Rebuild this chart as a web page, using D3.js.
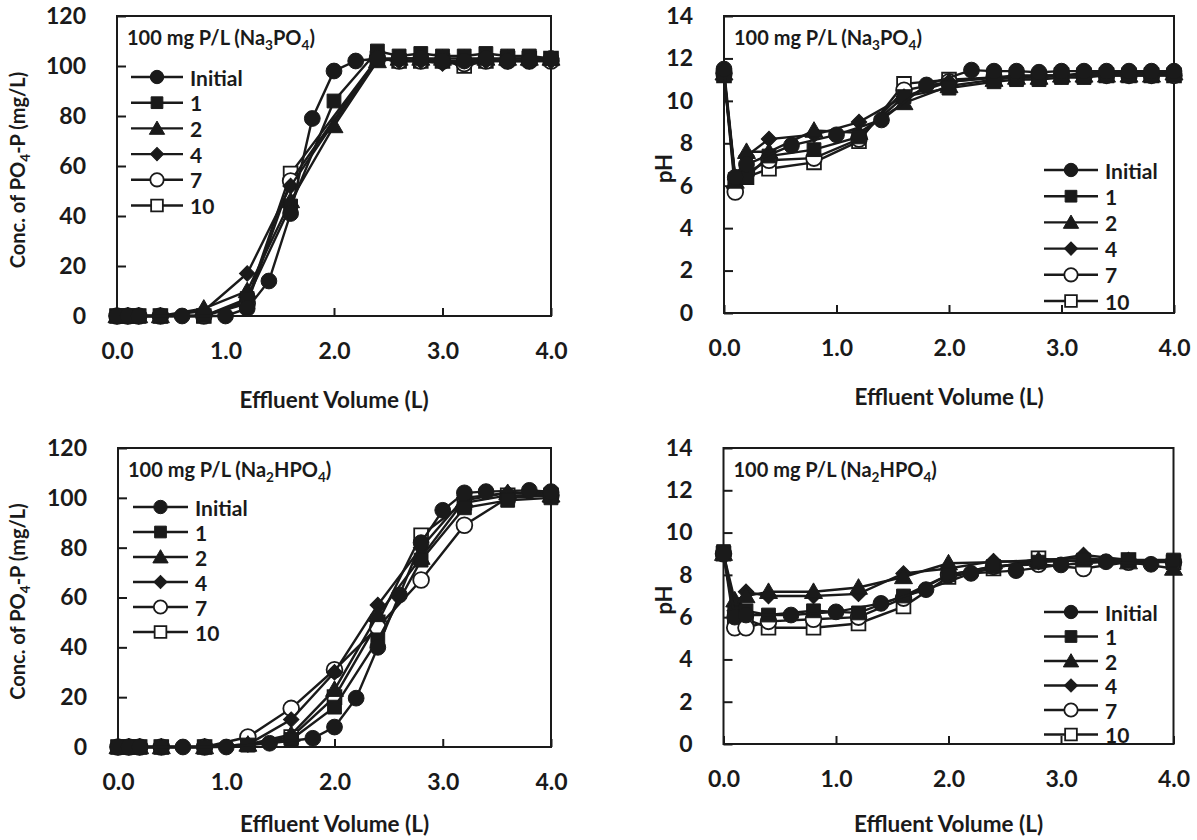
<!DOCTYPE html>
<html><head><meta charset="utf-8">
<script src="https://cdn.jsdelivr.net/npm/d3@7"></script>
<style>
body{margin:0;background:#fff;}
svg{display:block;font-family:Lato,"Open Sans",sans-serif;font-weight:bold;}
</style></head>
<body>
<svg id="chart" width="1197" height="840"></svg>
<script>
// ---------- DATA ----------
const seriesNames = ["Initial","1","2","4","7","10"];
const xTicks = [0,1,2,3,4];
const concTicks = [0,20,40,60,80,100,120];
const phTicks = [0,2,4,6,8,10,12,14];

// Panel A: PO4-P, Na3PO4
const a_x_initial = [0,0.1,0.2,0.6,1.0,1.2,1.4,1.6,1.8,2.0,2.2,2.4,2.6,2.8,3.0,3.2,3.4,3.6,3.8,4.0];
const a_y_initial = [0,0,0,0,0,3,14,41,79,98,102,103,103,103,102,102,103,102,102,103];
const a_x_grid = [0,0.1,0.2,0.4,0.8,1.2,1.6,2.0,2.4,2.6,2.8,3.0,3.2,3.4,3.6,3.8,4.0];
const a_x_grid2 = [0,0.1,0.2,0.4,0.8,1.2,1.6,2.4,2.6,2.8,3.0,3.2,3.4,3.6,3.8,4.0];
const a_y_1  = [0,0,0,0,0,7,44,86,106,104,105,104,104,105,104,104,103];
const a_y_2  = [0,0,0,0,3,10,46,76,102,103,103,103,103,103,103,103,103];
const a_y_4  = [0,0,0,0,2,17,52,103,102,102,101,102,102,102,102,102];
const a_y_7  = [0,0,0,0,0,5,54,103,102,102,102,101,102,102,102,102];
const a_y_10 = [0,0,0,0,0,6,57,103,102,102,102,100,102,103,103,103];

// Panel B: pH, Na3PO4
const b_x_initial = [0,0.1,0.2,0.6,1.0,1.4,1.8,2.2,2.4,2.6,2.8,3.0,3.2,3.4,3.6,3.8,4.0];
const b_y_initial = [11.5,6.4,7.0,7.9,8.4,9.1,10.75,11.45,11.4,11.4,11.35,11.4,11.4,11.4,11.4,11.4,11.4];
const b_x_grid = [0,0.1,0.2,0.4,0.8,1.2,1.6,2.0,2.4,2.6,2.8,3.0,3.2,3.4,3.6,3.8,4.0];
const b_y_1  = [11.2,6.3,6.4,7.4,7.7,8.3,10.2,10.6,10.9,11.0,11.0,11.1,11.1,11.2,11.2,11.2,11.2];
const b_y_2  = [11.3,6.2,7.6,7.6,8.6,8.5,9.9,10.7,11.0,11.1,11.1,11.2,11.2,11.2,11.2,11.2,11.3];
const b_y_4  = [11.3,6.3,7.4,8.2,8.4,9.0,10.2,10.9,11.1,11.2,11.2,11.2,11.3,11.3,11.3,11.3,11.3];
const b_y_7  = [11.3,5.7,6.6,7.2,7.3,8.2,10.5,10.9,11.1,11.1,11.2,11.2,11.2,11.2,11.2,11.2,11.2];
const b_y_10 = [11.2,6.0,6.4,6.8,7.1,8.1,10.8,11.0,11.1,11.1,11.1,11.2,11.2,11.2,11.2,11.2,11.2];

// Panel C: PO4-P, Na2HPO4
const c_x_initial = [0,0.1,0.2,0.6,1.0,1.4,1.8,2.0,2.2,2.4,2.6,2.8,3.0,3.2,3.4,3.8,4.0];
const c_y_initial = [0,0,0,0,0,1.5,3.5,8,19.6,40,61,82,95,102,102.5,103,102.5];
const c_x_grid = [0,0.1,0.2,0.4,0.8,1.2,1.6,2.0,2.4,2.8,3.2,3.6,4.0];
const c_y_1  = [0,0,0,0,0,0.8,3,16,43,75,96,99,100];
const c_y_2  = [0,0,0,0,0,1,5,23,53,76,99,102,101];
const c_y_4  = [0,0,0,0,0,1,11,30,57,80,100,102,102];
const c_y_7  = [0,0,0,0,0,4,15.5,31,48,67,89,100,101];
const c_y_10 = [0,0,0,0,0,1,4,20,50,85,98,101,101];

// Panel D: pH, Na2HPO4
const d_x_initial = [0,0.1,0.2,0.6,1.0,1.4,1.8,2.2,2.6,3.0,3.4,3.8];
const d_y_initial = [9.0,6.0,6.1,6.1,6.25,6.65,7.3,8.07,8.2,8.47,8.62,8.5];
const d_x_grid = [0,0.1,0.2,0.4,0.8,1.2,1.6,2.0,2.4,2.8,3.2,3.6,4.0];
const d_y_1  = [9.1,6.2,6.3,6.1,6.3,6.2,7.0,8.0,8.4,8.6,8.7,8.7,8.7];
const d_y_2  = [9.0,6.8,7.0,7.2,7.2,7.4,7.9,8.55,8.6,8.7,8.8,8.6,8.3];
const d_y_4  = [9.0,6.3,7.2,7.0,7.0,7.1,8.07,8.3,8.65,8.6,8.94,8.7,8.6];
const d_y_7  = [9.0,5.5,5.5,5.8,5.9,6.0,6.9,8.0,8.4,8.5,8.3,8.6,8.6];
const d_y_10 = [9.0,5.9,5.9,5.5,5.5,5.7,6.5,7.9,8.3,8.78,8.6,8.7,8.6];

// ---------- DRAWING ----------
const svg = d3.select("#chart");
const INK = "#1a1a1a";
const markerTypes = ["circle","square","triangle","diamond","ocircle","osquare"];

function symbolPath(type, k){
  k = k || 1;
  switch(type){
    case "circle": case "ocircle": return d3.symbol(d3.symbolCircle, 195*k*k)();
    case "square": case "osquare": return d3.symbol(d3.symbolSquare, 190*k*k)();
    case "triangle": return d3.symbol(d3.symbolTriangle, 140*k*k)();
    case "diamond": return d3.symbol(d3.symbolSquare, 120*k*k)();
  }
}
function drawMarker(g, type, x, y, k){
  const open = type==="ocircle"||type==="osquare";
  g.append("path").attr("d", symbolPath(type,k))
    .attr("transform", `translate(${x},${y})` + (type==="diamond"?" rotate(45)":"") + (type==="triangle"?" translate(0,1.5)":""))
    .attr("fill", open?"#fff":INK).attr("stroke",INK).attr("stroke-width", open?1.8:1);
}

// text with subscripts: parts [{t, sub}]
function richText(t, parts, size, shift){
  let prevSub = false;
  parts.forEach(p=>{
    const ts = t.append("tspan").text(p.t);
    if(p.sub){ ts.attr("dy", shift).attr("font-size", size*0.68); prevSub = true; }
    else if(prevSub){ ts.attr("dy", -shift); prevSub = false; }
  });
}

function drawPanel(cfg){
  const g = svg.append("g");
  const x = d3.scaleLinear().domain([0,4]).range([cfg.left, cfg.right]);
  const y = d3.scaleLinear().domain(cfg.yDomain).range([cfg.bottom, cfg.top]);

  // frame
  g.append("rect").attr("x",cfg.left).attr("y",cfg.top)
    .attr("width",cfg.right-cfg.left).attr("height",cfg.bottom-cfg.top)
    .attr("fill","none").attr("stroke",INK).attr("stroke-width",2);

  // axes (ticks inside)
  const xa = g.append("g").attr("transform",`translate(0,${cfg.bottom})`)
    .call(d3.axisBottom(x).tickValues(xTicks).tickSizeInner(-8).tickSizeOuter(0).tickPadding(27).tickFormat(d3.format(".1f")));
  const ya = g.append("g").attr("transform",`translate(${cfg.left},0)`)
    .call(d3.axisLeft(y).tickValues(cfg.yTicks).tickSizeInner(-9).tickSizeOuter(0).tickPadding(31).tickFormat(d3.format("d")));
  [xa,ya].forEach(a=>{
    a.select(".domain").remove();
    a.selectAll(".tick line").attr("stroke",INK).attr("stroke-width",2);
    a.selectAll(".tick text").attr("font-size",23).attr("font-family","Lato, 'Open Sans', sans-serif")
      .attr("font-weight","bold").attr("fill",INK);
  });

  // axis titles
  g.append("text").attr("x",(cfg.left+cfg.right)/2).attr("y",cfg.bottom+cfg.xTitleDy)
    .attr("text-anchor","middle").attr("font-size",22.5).attr("fill",INK).text("Effluent Volume (L)");
  const yt = g.append("text").attr("transform",`translate(${cfg.yTitleX},${(cfg.top+cfg.bottom)/2+4}) rotate(-90)`)
    .attr("text-anchor","middle").attr("font-size",cfg.yTitleSize).attr("fill",INK);
  richText(yt, cfg.yTitle, cfg.yTitleSize, 5);

  // title
  const tt = g.append("text").attr("x",cfg.left+10).attr("y",cfg.top+29).attr("font-size",20).attr("fill",INK);
  richText(tt, cfg.title, 20, 5);

  // series (drawn last-to-first so the filled markers sit on top)
  const ser = cfg.series.map((s,i)=>({s,i})).reverse();
  ser.forEach(({s,i})=>{
    const pts = s.xs.map((v,j)=>[v, s.ys[j]]);
    g.append("path").datum(pts)
      .attr("d", d3.line().x(d=>x(d[0])).y(d=>y(d[1])))
      .attr("fill","none").attr("stroke",INK).attr("stroke-width",2.4);
    pts.forEach(p=>drawMarker(g, markerTypes[i], x(p[0]), y(p[1]), 1));
  });

  // legend
  const L = cfg.legend;
  seriesNames.forEach((n,i)=>{
    const yy = L.y + i*L.dy;
    g.append("line").attr("x1",L.x1).attr("x2",L.x2).attr("y1",yy).attr("y2",yy)
      .attr("stroke",INK).attr("stroke-width",2.4);
    drawMarker(g, markerTypes[i], (L.x1+L.x2)/2, yy, 0.85);
    g.append("text").attr("x",L.x2+7).attr("y",yy).attr("dominant-baseline","central")
      .attr("font-size",21).attr("fill",INK).text(n);
  });
}

const concTitle = [{t:"Conc. of PO"},{t:"4",sub:true},{t:"-P (mg/L)"}];
const phTitle = [{t:"pH"}];

drawPanel({left:117,right:551,top:16,bottom:316,yDomain:[0,120],yTicks:concTicks,
  yTitle:concTitle, yTitleX:25, yTitleSize:20, xTitleDy:92,
  title:[{t:"100 mg P/L (Na"},{t:"3",sub:true},{t:"PO"},{t:"4",sub:true},{t:")"}],
  legend:{x1:131,x2:183,y:77,dy:25.7},
  series:[{xs:a_x_initial,ys:a_y_initial},{xs:a_x_grid,ys:a_y_1},{xs:a_x_grid,ys:a_y_2},
          {xs:a_x_grid2,ys:a_y_4},{xs:a_x_grid2,ys:a_y_7},{xs:a_x_grid2,ys:a_y_10}]});

drawPanel({left:724,right:1174,top:16,bottom:313,yDomain:[0,14],yTicks:phTicks,
  yTitle:phTitle, yTitleX:672, yTitleSize:22, xTitleDy:92,
  title:[{t:"100 mg P/L (Na"},{t:"3",sub:true},{t:"PO"},{t:"4",sub:true},{t:")"}],
  legend:{x1:1044,x2:1098,y:170,dy:26.2},
  series:[{xs:b_x_initial,ys:b_y_initial},{xs:b_x_grid,ys:b_y_1},{xs:b_x_grid,ys:b_y_2},
          {xs:b_x_grid,ys:b_y_4},{xs:b_x_grid,ys:b_y_7},{xs:b_x_grid,ys:b_y_10}]});

drawPanel({left:118,right:551,top:448,bottom:747,yDomain:[0,120],yTicks:concTicks,
  yTitle:concTitle, yTitleX:25, yTitleSize:20, xTitleDy:85,
  title:[{t:"100 mg P/L (Na"},{t:"2",sub:true},{t:"HPO"},{t:"4",sub:true},{t:")"}],
  legend:{x1:133,x2:188,y:507,dy:25},
  series:[{xs:c_x_initial,ys:c_y_initial},{xs:c_x_grid,ys:c_y_1},{xs:c_x_grid,ys:c_y_2},
          {xs:c_x_grid,ys:c_y_4},{xs:c_x_grid,ys:c_y_7},{xs:c_x_grid,ys:c_y_10}]});

drawPanel({left:723.5,right:1173.5,top:448,bottom:744,yDomain:[0,14],yTicks:phTicks,
  yTitle:phTitle, yTitleX:672, yTitleSize:22, xTitleDy:88,
  title:[{t:"100 mg P/L (Na"},{t:"2",sub:true},{t:"HPO"},{t:"4",sub:true},{t:")"}],
  legend:{x1:1044,x2:1098,y:612,dy:24.5},
  series:[{xs:d_x_initial,ys:d_y_initial},{xs:d_x_grid,ys:d_y_1},{xs:d_x_grid,ys:d_y_2},
          {xs:d_x_grid,ys:d_y_4},{xs:d_x_grid,ys:d_y_7},{xs:d_x_grid,ys:d_y_10}]});
</script>
</body></html>
